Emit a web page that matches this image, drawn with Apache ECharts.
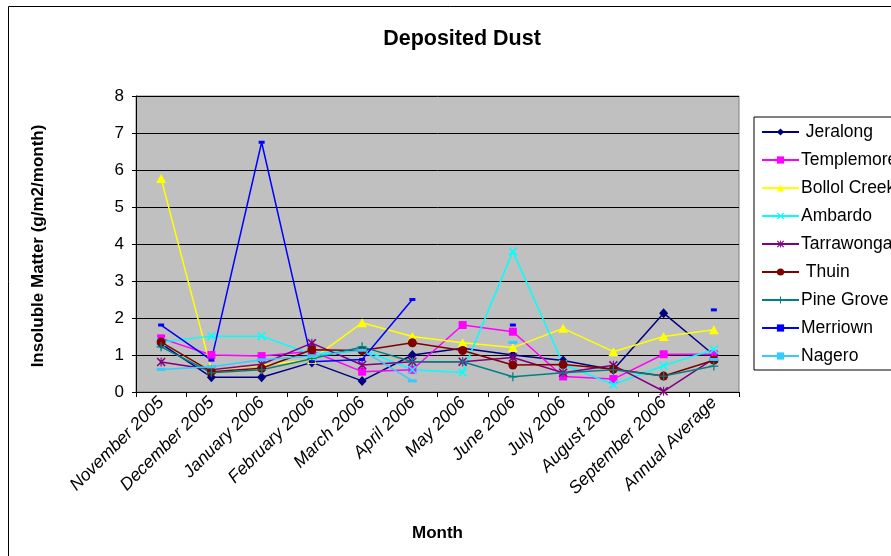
<!DOCTYPE html>
<html>
<head>
<meta charset="utf-8">
<script src="https://cdn.jsdelivr.net/npm/echarts@6/dist/echarts.min.js"></script>
<style>
html,body{margin:0;padding:0;background:#fff;}
#chart{width:891px;height:556px;}
</style>
</head>
<body>
<div id="chart"></div>
<script>
const categories = ["November 2005","December 2005","January 2006","February 2006","March 2006","April 2006","May 2006","June 2006","July 2006","August 2006","September 2006","Annual Average"];
const yTicks = [0,1,2,3,4,5,6,7,8];

const jeralong    = [1.3, 0.4, 0.4, 0.8, 0.3, 1.0, 1.18, 1.0, 0.85, 0.6, 2.13, 1.0];
const templemore  = [1.45, 1.0, 0.97, 1.1, 0.55, 0.6, 1.81, 1.63, 0.42, 0.35, 1.02, 1.02];
const bollolCreek = [5.77, 0.6, 0.72, 0.88, 1.87, 1.5, 1.33, 1.2, 1.72, 1.09, 1.5, 1.68];
const ambardo     = [1.35, 1.51, 1.51, 1.02, 1.15, 0.6, 0.53, 3.8, 0.75, 0.2, 0.71, 1.15];
const tarrawonga  = [0.81, 0.6, 0.75, 1.32, 0.73, 0.82, 0.82, 0.93, 0.52, 0.72, 0.02, 0.9];
const thuin       = [1.35, 0.55, 0.64, 1.14, 1.12, 1.33, 1.12, 0.73, 0.74, 0.62, 0.43, 0.86];
const pineGrove   = [1.22, 0.52, 0.6, 0.9, 1.22, 0.82, 0.82, 0.41, 0.52, 0.6, 0.43, 0.7];
const merriown    = [1.81, 0.86, 6.75, 0.82, 0.88, 2.5, null, 1.81, null, null, null, 2.22];
const nagero      = [0.61, 0.68, 0.87, 0.97, 1.13, 0.3, null, 1.34, null, null, null, 0.88];

const X_PATH = 'path://M0,1.2 L1.2,0 L5,3.8 L8.8,0 L10,1.2 L6.2,5 L10,8.8 L8.8,10 L5,6.2 L1.2,10 L0,8.8 L3.8,5 Z';
const PLUS_PATH = 'path://M4.3,0 L5.7,0 L5.7,4.3 L10,4.3 L10,5.7 L5.7,5.7 L5.7,10 L4.3,10 L4.3,5.7 L0,5.7 L0,4.3 L4.3,4.3 Z';
const AST_PATH = 'path://M0,1.2 L1.2,0 L5,3.8 L8.8,0 L10,1.2 L6.2,5 L10,8.8 L8.8,10 L5,6.2 L1.2,10 L0,8.8 L3.8,5 Z M4.4,0 L5.6,0 L5.6,10 L4.4,10 Z';

const seriesDefs = [
  {name:' Jeralong',   data:jeralong,    color:'#000080', symbol:'diamond',  size:[9,10]},
  {name:'Templemore',  data:templemore,  color:'#FF00FF', symbol:'rect',     size:[8,8]},
  {name:'Bollol Creek',data:bollolCreek, color:'#FFFF00', symbol:'triangle', size:[10,9]},
  {name:'Ambardo',     data:ambardo,     color:'#00FFFF', symbol:X_PATH,     size:[9,9]},
  {name:'Tarrawonga',  data:tarrawonga,  color:'#800080', symbol:AST_PATH,   size:[9,9]},
  {name:' Thuin',      data:thuin,       color:'#800000', symbol:'circle',   size:[9,9]},
  {name:'Pine Grove',  data:pineGrove,   color:'#008080', symbol:PLUS_PATH,  size:[9,9]},
  {name:'Merriown',    data:merriown,    color:'#0000FF', symbol:'rect',     size:[6,3]},
  {name:'Nagero',      data:nagero,      color:'#33CCFF', symbol:'rect',     size:[9,3]}
];

const chart = echarts.init(document.getElementById('chart'), null, {renderer:'canvas'});
const FONT = 'Liberation Sans, Arial, sans-serif';

const option = {
  animation:false,
  backgroundColor:'#fff',
  title:{
    text:'Deposited Dust', left:457, top:23, textAlign:'center',
    textStyle:{fontFamily:FONT, fontSize:21.5, fontWeight:'bold', color:'#000'}
  },
  legend:{
    orient:'vertical', left:754, top:117,
    padding:[6,40,5,7],
    borderColor:'#000', borderWidth:1, backgroundColor:'#fff',
    itemWidth:37, itemHeight:9, itemGap:10,
    textStyle:{fontFamily:FONT, fontSize:17.5, color:'#000', padding:[0,0,0,-3]},
    data: seriesDefs.map(s=>s.name)
  },
  grid:{
    left:136, top:96, right:152, bottom:164,
    show:true, backgroundColor:'#C0C0C0', borderColor:'#808080', borderWidth:1
  },
  xAxis:{
    type:'category', data:categories, boundaryGap:true,
    axisLine:{show:true, lineStyle:{color:'#000', width:1}},
    axisTick:{show:true, length:5, lineStyle:{color:'#000'}},
    axisLabel:{rotate:45, interval:0, margin:8, fontFamily:FONT, fontSize:17.5, fontStyle:'italic', color:'#000'},
    splitLine:{show:false},
    name:'Month', nameLocation:'middle', nameGap:133,
    nameTextStyle:{fontFamily:FONT, fontSize:17, fontWeight:'bold', color:'#000'}
  },
  yAxis:{
    type:'value', min:yTicks[0], max:yTicks[yTicks.length-1], interval:1,
    axisLine:{show:true, lineStyle:{color:'#000', width:1}},
    axisTick:{show:true, length:4, inside:false, lineStyle:{color:'#000'}},
    axisLabel:{margin:12, fontFamily:FONT, fontSize:17, color:'#000'},
    splitLine:{show:true, lineStyle:{color:'#000', width:1}}
  },
  graphic:[
    {type:'rect', shape:{x:8.5, y:6.5, width:900, height:600}, style:{fill:'none', stroke:'#000', lineWidth:1}, silent:true, z:-10},
    {type:'text', x:38, y:246, rotation:Math.PI/2,
     style:{text:'Insoluble Matter (g/m2/month)', fontFamily:FONT, fontSize:17, fontWeight:'bold', fill:'#000', textAlign:'center', textVerticalAlign:'middle'}}
  ],
  series: seriesDefs.map(s=>({
    name:s.name, type:'line', data:s.data,
    symbol:s.symbol, symbolSize:s.size, showSymbol:true, showAllSymbol:true,
    connectNulls:false,
    lineStyle:{color:s.color, width:1.5},
    itemStyle:{color:s.color, borderWidth:0},
    emphasis:{disabled:true}
  }))
};
chart.setOption(option);
</script>
</body>
</html>
